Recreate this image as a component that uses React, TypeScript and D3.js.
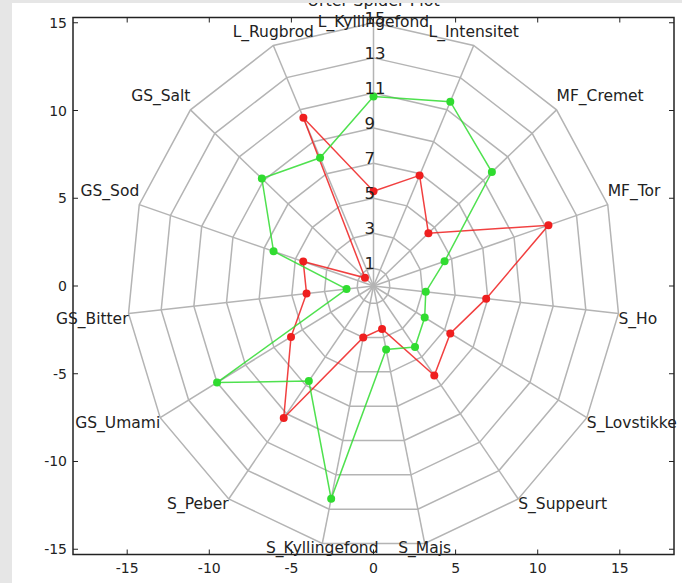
import React from "react";
import * as d3 from "d3";

const categories = [
  "L_Kyllingefond", "L_Intensitet", "MF_Cremet", "MF_Tor", "S_Ho",
  "S_Lovstikke", "S_Suppeurt", "S_Majs", "S_Kyllingefond", "S_Peber",
  "GS_Umami", "GS_Bitter", "GS_Sod", "GS_Salt", "L_Rugbrod",
];
const redValues = [5.4, 6.9, 4.5, 11.2, 6.9, 5.4, 6.3, 2.5, 3.0, 9.3, 5.8, 4.1, 4.5, 0.7, 10.5];
const greenValues = [10.8, 11.5, 9.7, 4.55, 3.2, 3.6, 4.3, 3.7, 12.4, 6.7, 11.0, 1.65, 6.4, 9.15, 8.0];
const ringLevels = [1, 3, 5, 7, 9, 11, 13, 15];
const xTicks = [-15, -10, -5, 0, 5, 10, 15];
const yTicks = [-15, -10, -5, 0, 5, 10, 15];
const title = "Urter Spider Plot";

const W = 682, H = 583;
const L = 73, R = 674, T = 17.5, B = 554.5;
const FONT = "DejaVu Sans, sans-serif";

export default function App() {
  const x = d3.scaleLinear().domain([-18.3, 18.3]).range([L, R]);
  const y = d3.scaleLinear().domain([-15.3, 15.3]).range([B, T]);
  const n = categories.length;
  const ang = (i: number) => ((90 - (360 / n) * i) * Math.PI) / 180;
  const pt = (i: number, r: number): [number, number] => [x(r * Math.cos(ang(i))), y(r * Math.sin(ang(i)))];
  const maxR = ringLevels[ringLevels.length - 1];
  const line = d3.line<[number, number]>().curve(d3.curveLinearClosed);

  const series = [
    { values: redValues, color: "#ef1f1f" },
    { values: greenValues, color: "#30dc30" },
  ];

  return (
    <svg width={W} height={H} style={{ position: "absolute", left: 0, top: 0 }} fontFamily={FONT}>
      <rect x={0} y={0} width={W} height={H} fill="#ffffff" />
      <text x={(L + R) / 2} y={6} textAnchor="middle" fontSize={16} fill="#222">{title}</text>
      {ringLevels.map((r) => (
        <path key={"ring" + r} d={line(categories.map((_, i) => pt(i, r))) || ""} fill="none" stroke="#b4b4b4" strokeWidth={1.5} />
      ))}
      {categories.map((_, i) => {
        const [px, py] = pt(i, maxR);
        return <line key={"sp" + i} x1={x(0)} y1={y(0)} x2={px} y2={py} stroke="#b4b4b4" strokeWidth={1.5} />;
      })}
      {series.map((s, si) => (
        <g key={"s" + si}>
          <path d={line(s.values.map((v, i) => pt(i, v))) || ""} fill="none" stroke={s.color} strokeWidth={1.5} strokeOpacity={0.85} />
          {s.values.map((v, i) => {
            const [px, py] = pt(i, v);
            return <circle key={i} cx={px} cy={py} r={4} fill={s.color} />;
          })}
        </g>
      ))}
      {ringLevels.map((r) => (
        <text key={"rl" + r} x={x(0) - 9} y={y(r) + 1} fontSize={16.5} fill="#222">{r}</text>
      ))}
      {categories.map((c, i) => {
        const a = ang(i);
        const cs = Math.cos(a), sn = Math.sin(a);
        const [px, py] = pt(i, maxR);
        const anchor = Math.abs(cs) < 0.45 ? "middle" : cs > 0 ? "start" : "end";
        let by: number;
        if (sn > 0.99) by = py + 4;
        else if (sn > 0.2) by = py - 9;
        else by = py + 10;
        return (
          <text key={"cl" + i} x={px} y={by} textAnchor={anchor} fontSize={15.5} fill="#222">{c}</text>
        );
      })}
      <rect x={L} y={T} width={R - L} height={B - T} fill="none" stroke="#222" strokeWidth={1.5} />
      {xTicks.map((t) => (
        <g key={"xt" + t}>
          <line x1={x(t)} x2={x(t)} y1={B} y2={B - 5} stroke="#222" />
          <line x1={x(t)} x2={x(t)} y1={T} y2={T + 5} stroke="#222" />
          <text x={x(t)} y={B + 18} textAnchor="middle" fontSize={14} fill="#222">{t}</text>
        </g>
      ))}
      {yTicks.map((t) => (
        <g key={"yt" + t}>
          <line x1={L} x2={L + 5} y1={y(t)} y2={y(t)} stroke="#222" />
          <line x1={R} x2={R - 5} y1={y(t)} y2={y(t)} stroke="#222" />
          <text x={L - 6} y={y(t) + 5} textAnchor="end" fontSize={14} fill="#222">{t}</text>
        </g>
      ))}
      <rect x={0} y={0} width={W} height={3} fill="#e6e6e6" />
      <rect x={0} y={0} width={12} height={H} fill="#e6e6e6" />
    </svg>
  );
}
